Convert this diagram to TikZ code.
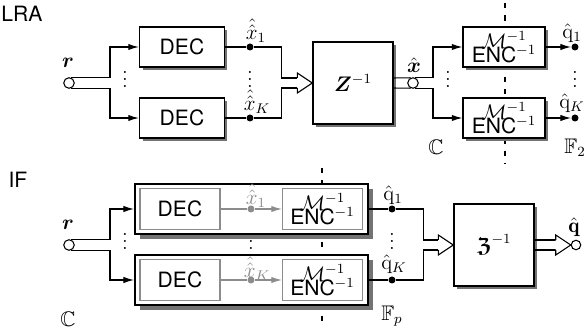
\documentclass[tikz,border=0pt]{standalone}
\usepackage{amsmath,amssymb}
\usepackage{fontspec}
\setsansfont{TeX Gyre Heros}
\usetikzlibrary{calc,arrows.meta,shadows}

\begin{document}
\begin{tikzpicture}[
  x=0.02cm, y=-0.02cm,
  line width=0.6pt, font=\large,
  blk/.style={
    draw, fill=white, line width=0.8pt, font=\large\sffamily,
    minimum width=1.7cm, minimum height=0.8cm, inner sep=1pt,
    drop shadow={shadow xshift=0.06cm, shadow yshift=-0.06cm, fill=black!55, opacity=1}
  },
  encblk/.style={blk, minimum width=1.64cm, align=center},
  bigblk/.style={blk, minimum width=1.6cm, minimum height=1.64cm},
  ifblk/.style={
    draw, fill=white, line width=1.2pt,
    minimum width=4.66cm, minimum height=1.0cm,
    drop shadow={shadow xshift=0.1cm, shadow yshift=-0.1cm, fill=black!55, opacity=1}
  },
  inblk/.style={
    draw=black!45, fill=white, line width=0.8pt, font=\large\sffamily,
    minimum width=1.6cm, minimum height=0.82cm, inner sep=1pt, align=center
  },
  port/.style={circle, draw, fill=white, minimum size=0.21cm, inner sep=0pt, line width=0.6pt},
  tap/.style={circle, fill, minimum size=0.14cm, inner sep=0pt},
  arr/.style={-{Latex[length=6pt,width=3.6pt]}},
  sep/.style={dash pattern=on 3pt off 4pt, line width=0.6pt},
  fathead/.pic={\draw[fill=white] (-15,-5) -- (-15,-10) -- (0,0) -- (-15,10) -- (-15,5);},
]
\useasboundingbox (0,0) rectangle (586,331);

%% field boundaries (behind the blocks)
\draw[sep] (505,3) -- (505,163);
\draw[sep] (322,168) -- (322,326);

%% ---------------- LRA ----------------
\node[font=\large\sffamily] (lra) at (22,14) {LRA};

\node[port] (r1) at (69,83) {};
\node (r1lab) at (68,63) {$\boldsymbol{r}$};
\coordinate (sp1) at (110,83);

\node[blk] (dec1) at (182,47) {DEC};
\node[blk] (dec2) at (182,118) {DEC};
\node (vd1) at (125,74) {$\vdots$};

\node[tap] (x1) at (250,47) {};
\node[tap] (xK) at (250,118) {};
\node (x1lab) at (256,31) {$\hat{\hat{x}}_1$};
\node (xKlab) at (257,102) {$\hat{\hat{x}}_K$};
\node (vd2) at (250,74) {$\vdots$};

\node[bigblk] (Zinv) at (353,83) {$\boldsymbol{Z}^{-1}$};

\node[port] (xh) at (413,83) {};
\node (xhlab) at (414,65) {$\hat{\boldsymbol{x}}$};
\coordinate (sp2) at (433,83);

\node[encblk] (enc1) at (504,47) {$\mathcal{M}^{-1}$\\[-6pt]ENC$^{-1}$};
\node[encblk] (enc2) at (504,118) {$\mathcal{M}^{-1}$\\[-6pt]ENC$^{-1}$};
\node (vd3) at (448,74) {$\vdots$};

\node[tap] (q1) at (575,47) {};
\node[tap] (qK) at (575,118) {};
\node (q1lab) at (572,33) {$\hat{\mathrm{q}}_1$};
\node (qKlab) at (572,103) {$\hat{\mathrm{q}}_K$};
\node (vd4) at (575,74) {$\vdots$};

\node (cc1) at (436,147) {$\mathbb{C}$};
\node (ff1) at (575,148) {$\mathbb{F}_2$};

%% connections
\draw[arr] (r1.65)  -| (sp1 |- dec1) -- (dec1);
\draw[arr] (r1.-65) -| (sp1 |- dec2) -- (dec2);
\draw (dec1) -- (x1);
\draw (dec2) -- (xK);
\draw (x1) -| ($(Zinv.west)+(-31,-5)$) -- ($(Zinv.west)+(-15,-5)$);
\draw (xK) -| ($(Zinv.west)+(-31,5)$) -- ($(Zinv.west)+(-15,5)$);
\pic at (Zinv.west) {fathead};
\draw ($(Zinv.east)+(0,-5)$) -- (xh.115);
\draw ($(Zinv.east)+(0,5)$)  -- (xh.-115);
\draw[arr] (xh.65)  -| (sp2 |- enc1) -- (enc1);
\draw[arr] (xh.-65) -| (sp2 |- enc2) -- (enc2);
\draw[arr] (enc1) -- (q1);
\draw[arr] (enc2) -- (qK);

%% ---------------- IF ----------------
\node[font=\large\sffamily] (if) at (18,180) {IF};

\node[port] (r2) at (69,245) {};
\node (r2lab) at (68,225) {$\boldsymbol{r}$};
\coordinate (sp3) at (110,245);

\node[ifblk] (grpA) at (251.5,209) {};
\node[ifblk] (grpB) at (251.5,280) {};
\node[inblk] (idec1) at (180,209) {DEC};
\node[inblk] (idec2) at (180,280) {DEC};
\node[inblk] (ienc1) at (322.5,209) {$\mathcal{M}^{-1}$\\[-6pt]ENC$^{-1}$};
\node[inblk] (ienc2) at (322.5,280) {$\mathcal{M}^{-1}$\\[-6pt]ENC$^{-1}$};
\node (vd5) at (125,236) {$\vdots$};

\node[tap, black!45] (gx1) at (251,209) {};
\node[tap, black!45] (gxK) at (251,280) {};
\node[black!45] (gx1lab) at (256,196) {$\hat{\hat{x}}_1$};
\node[black!45] (gxKlab) at (257,269) {$\hat{\hat{x}}_K$};
\node (vd6) at (251,236) {$\vdots$};

\node[tap] (p1) at (392,209) {};
\node[tap] (pK) at (392,280) {};
\node (p1lab) at (393,195) {$\hat{\mathrm{q}}_1$};
\node (pKlab) at (394,264) {$\hat{\mathrm{q}}_K$};
\node (vd7) at (392,236) {$\vdots$};

\node[bigblk] (Finv) at (494,245) {$\boldsymbol{\mathfrak{Z}}^{-1}$};
\node[port, minimum size=0.19cm] (qo) at (576,245) {};
\node (qolab) at (574,227) {$\hat{\mathbf{q}}$};

\node (cc2) at (68,319) {$\mathbb{C}$};
\node (ff2) at (392,316) {$\mathbb{F}_p$};

%% connections
\draw[arr] (r2.65)  -| (sp3 |- grpA) -- (grpA);
\draw[arr] (r2.-65) -| (sp3 |- grpB) -- (grpB);
\draw[black!45] (idec1) -- (gx1);
\draw[black!45] (idec2) -- (gxK);
\draw[black!45, arr] (gx1) -- (ienc1);
\draw[black!45, arr] (gxK) -- (ienc2);
\draw (grpA) -- (p1);
\draw (grpB) -- (pK);
\draw (p1) -| ($(Finv.west)+(-30,-5)$) -- ($(Finv.west)+(-15,-5)$);
\draw (pK) -| ($(Finv.west)+(-30,5)$) -- ($(Finv.west)+(-15,5)$);
\pic at (Finv.west) {fathead};
\draw ($(Finv.east)+(0,-5)$) -- ($(qo.west)+(-15,-5)$);
\draw ($(Finv.east)+(0,5)$)  -- ($(qo.west)+(-15,5)$);
\pic at (qo.west) {fathead};

\end{tikzpicture}
\end{document}
